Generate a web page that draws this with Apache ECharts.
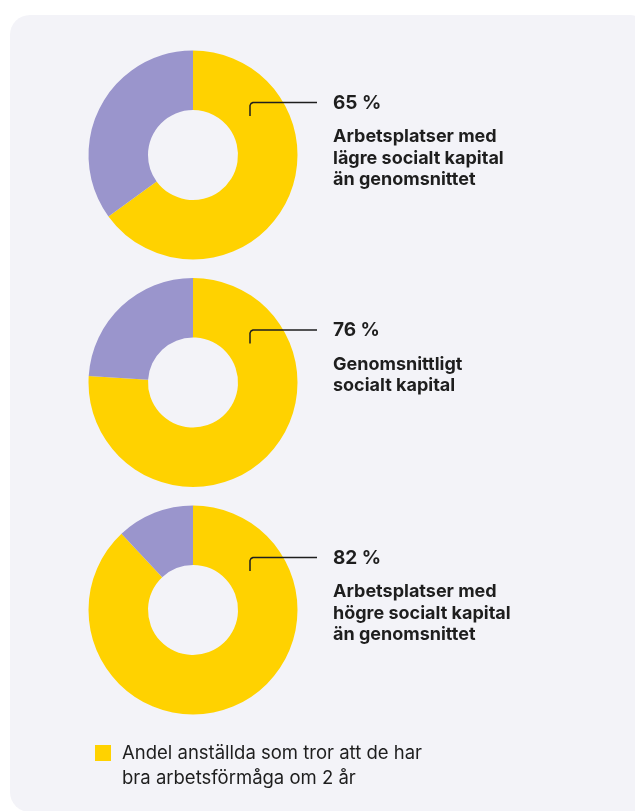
<!DOCTYPE html>
<html><head><meta charset="utf-8">
<script src="https://cdn.jsdelivr.net/npm/echarts@6/dist/echarts.min.js"></script>
<style>html,body{margin:0;padding:0;background:#fff}#c{width:635px;height:811px}</style>
</head><body><div id="c"></div>
<script>
// ---- data ----
const categories = [
  'Arbetsplatser med\nlägre socialt kapital\nän genomsnittet',
  'Genomsnittligt\nsocialt kapital',
  'Arbetsplatser med\nhögre socialt kapital\nän genomsnittet'
];
// printed percentages
const labelPct = [65, 76, 82];
// slice sizes as drawn in the picture (yellow / purple)
const sliceYellow = [65, 76, 88];
const slicePurple = [35, 24, 12];
const legendLabel = 'Andel anställda som tror att de har\nbra arbetsförmåga om 2 år';
const otherLabel = 'Övriga';

// ---- style / layout ----
const YELLOW = '#FFD200', PURPLE = '#9A95CC', BG = '#F3F3F8', INK = '#1E1E1E';
const CX = 193, CYS = [155, 382.5, 610], R = [45, 104.5];
const FONT = 'Inter, "Noto Sans", sans-serif';

const chart = echarts.init(document.getElementById('c'), null, {renderer: 'canvas'});

const series = categories.map((cat, i) => ({
  type: 'pie', name: cat, center: [CX, CYS[i]], radius: R,
  startAngle: 90, clockwise: true, silent: true, animation: false,
  label: {show: false}, labelLine: {show: false},
  itemStyle: {borderWidth: 0},
  data: [
    {name: legendLabel, value: sliceYellow[i], itemStyle: {color: YELLOW}},
    {name: otherLabel, value: slicePurple[i], itemStyle: {color: PURPLE}}
  ]
}));

const graphic = [{
  type: 'rect', z: 0, silent: true,
  shape: {x: 10, y: 15, width: 640, height: 797, r: 20},
  style: {fill: BG}
}];
categories.forEach((cat, i) => {
  const cy = CYS[i];
  graphic.push({
    type: 'polyline', z: 10, silent: true,
    shape: {points: [[250, cy - 39], [250, cy - 49.5], [251, cy - 51.5], [253, cy - 52.5], [317, cy - 52.5]]},
    style: {fill: null, stroke: INK, lineWidth: 1.5, lineJoin: 'round'}
  });
  graphic.push({
    type: 'text', z: 10, silent: true, x: 333, y: cy - 52,
    style: {text: labelPct[i] + ' %', fill: INK, font: '700 19px ' + FONT, verticalAlign: 'middle', align: 'left'}
  });
  graphic.push({
    type: 'text', z: 10, silent: true, x: 333, y: cy - 29,
    style: {text: cat, fill: INK, font: '700 18px ' + FONT, lineHeight: 21.5, verticalAlign: 'top', align: 'left'}
  });
});

chart.setOption({
  animation: false,
  graphic: graphic,
  legend: {
    data: [legendLabel], left: 95, top: 715.5, padding: 0,
    icon: 'rect', itemWidth: 16, itemHeight: 16, selectedMode: false,
    formatter: name => '\n' + name,
    textStyle: {fontFamily: FONT, fontSize: 18.5, color: INK, lineHeight: 25, padding: [0, 0, 0, 6]}
  },
  series: series
});
</script></body></html>
